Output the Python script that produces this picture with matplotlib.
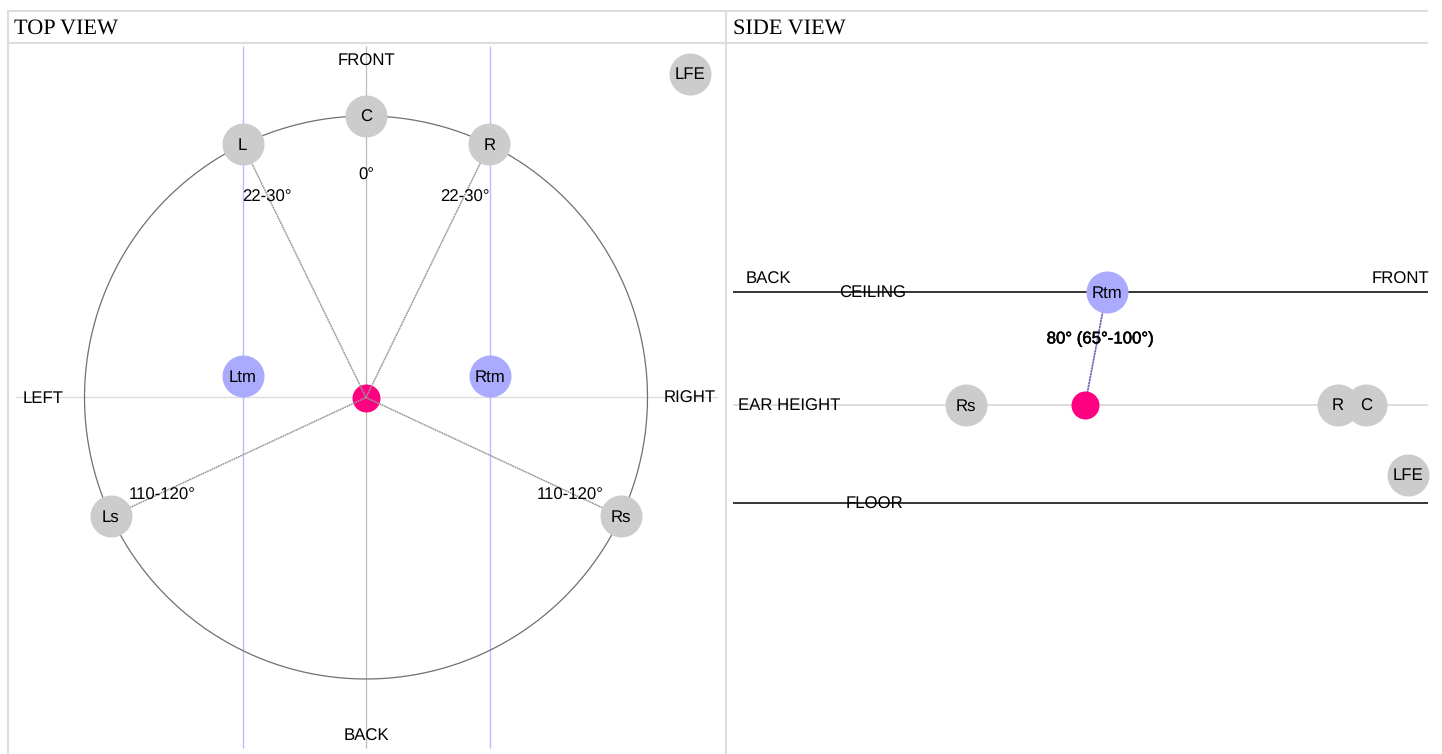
import numpy as np
import matplotlib
matplotlib.use('Agg')
import matplotlib.pyplot as plt
import matplotlib.patheffects as pe
from matplotlib.patches import Rectangle

plt.rcParams['font.family'] = ['Liberation Sans', 'DejaVu Sans']
plt.rcParams['text.hinting'] = 'no_hinting'
plt.rcParams['lines.solid_capstyle'] = 'butt'

# --- top view data (angle clockwise from front)
top_names = ['C', 'L', 'R', 'Ls', 'Rs']
top_angles = [0, -26.0, 26.0, -115, 115]
top_radius = 281.5
centre_top = (366, 397.5)
height_names = ['Ltm', 'Rtm']
height_x = [243, 489.5]
height_y = [376, 376]
lfe_top = (690, 74)
angle_texts = ['0°', '22-30°', '22-30°', '110-120°', '110-120°']
angle_text_x = [366, 267, 465, 162, 570]
angle_text_y = [173, 195, 195, 493, 493]

# --- side view data
side_names = ['Rs', 'R', 'C', 'LFE']
side_x = [966, 1338, 1366, 1408]
side_y = [405, 405, 405, 475]
listener_side = (1085, 405)
rtm_side = (1106.5, 292)
ceiling_y = 292
floor_y = 503
ear_y = 405

GREY = '#cccccc'
BLUE = '#aaaaff'
PINK = '#ff0080'
BORDER = '#dddddd'

fig = plt.figure(figsize=(14.42, 7.54), dpi=100)
ax = fig.add_axes([0, 0, 1, 1])
ax.set_xlim(0, 1442)
ax.set_ylim(754, 0)
ax.axis('off')

clip = Rectangle((0, 0), 1428, 754, transform=ax.transData)


def speaker(x, y, label, color=GREY, r=21, z=4):
	# marker size in points, diameter 2r pixels
	d = 2 * r * 72 / fig.dpi
	ax.plot([x], [y], 'o', ms=d, mfc=color, mec='none', zorder=z, clip_path=clip, snap=False)
	if label:
		ax.text(x, y + 1, label, ha='center', va='center', fontsize=12.1, color='black', zorder=5, clip_path=clip, clip_on=True)


def label(x, y, s, **kw):
	return ax.text(x, y + 2, s, ha='center', va='center', fontsize=12.1, color='black', zorder=6, clip_path=clip, clip_on=True, **kw)


# Marco de la tabla
for y in [10.5, 43]:
	ax.plot([7, 1428], [y, y], color=BORDER, lw=1.5, zorder=1)
for x in [7.5, 726]:
	ax.plot([x, x], [10, 754], color=BORDER, lw=1.5, zorder=1)
ax.text(14, 28.5, 'TOP VIEW', family='Liberation Serif', fontsize=16, ha='left', va='center', color='black')
ax.text(733, 28.5, 'SIDE VIEW', family='Liberation Serif', fontsize=16, ha='left', va='center', color='black')

# Vista superior
cx, cy = centre_top
th = np.linspace(0, 2 * np.pi, 400)
ax.plot(cx + top_radius * np.cos(th), cy + top_radius * np.sin(th), color='#707070', lw=0.9, zorder=2)
ax.plot([cx, cx], [46, 748], color='#bbbbbb', lw=0.9, zorder=1)
ax.plot([15, 717.5], [397, 397], color='#dddddd', lw=1.0, zorder=1)
for x in height_x:
	ax.plot([x, x], [46, 748], color='#bbbbff', lw=1.0, zorder=1)

speaker(cx, cy, '', PINK, 14, z=2.5)
for name, a, in zip(top_names, top_angles):
	x = cx + top_radius * np.sin(np.deg2rad(a))
	y = cy - top_radius * np.cos(np.deg2rad(a))
	if name != 'C':
		ax.plot([cx, x], [cy, y], color='#999999', lw=1.1, ls=(0, (1.2, 0.4)), zorder=3)
	speaker(x, y, name)
for name, x, y in zip(height_names, height_x, height_y):
	speaker(x, y, name, BLUE)
speaker(lfe_top[0], lfe_top[1], 'LFE')

for s, x, y in zip(angle_texts, angle_text_x, angle_text_y):
	label(x, y, s)
label(366, 59.5, 'FRONT')
label(366, 734.5, 'BACK')
label(43, 396.5, 'LEFT')
label(690, 396.5, 'RIGHT')

# Vista lateral
ax.plot([733, 1428], [ceiling_y, ceiling_y], color='black', lw=1.1, zorder=2)
ax.plot([733, 1428], [floor_y, floor_y], color='black', lw=1.1, zorder=2)
ax.plot([733, 1428], [ear_y, ear_y], color='#d4d4d4', lw=1.1, zorder=1)
ax.plot([listener_side[0], rtm_side[0]], [listener_side[1], rtm_side[1]], color='#6666bb', lw=1.2, ls=(0, (1.5, 0.3)), zorder=3)
for name, x, y in zip(side_names, side_x, side_y):
	speaker(x, y, name)
speaker(rtm_side[0], rtm_side[1], 'Rtm', BLUE)
speaker(listener_side[0], listener_side[1], '', PINK, 14)
label(1100, 337, '80° (65°-100°)', path_effects=[pe.withStroke(linewidth=0.4, foreground='black')])
label(768, 277, 'BACK')
label(1400, 277, 'FRONT')
label(873, 291, 'CEILING')
label(874, 502, 'FLOOR')
label(789, 404, 'EAR HEIGHT')

plt.savefig('out.png', dpi=100)
